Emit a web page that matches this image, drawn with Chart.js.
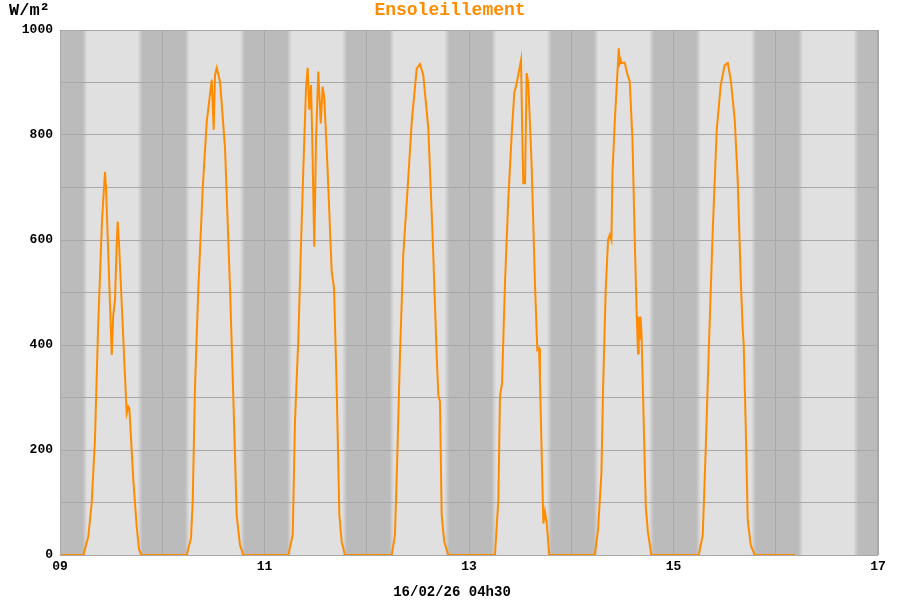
<!DOCTYPE html>
<html>
<head>
<meta charset="utf-8">
<title>Ensoleillement</title>
<script src="https://cdn.jsdelivr.net/npm/chart.js@4.4.1/dist/chart.umd.min.js"></script>
<style>
  body { margin: 0; background: #fff; }
  #wrap { width: 900px; height: 600px; }
</style>
</head>
<body>
<div id="wrap"><canvas id="sunChart" width="900" height="600"></canvas></div>
<script>
// time in days of the month (9.5 = 9th at 12h00), irradiance in W/m2
const times = [
  9.000, 9.228, 9.277, 9.310, 9.342, 9.372, 9.411, 9.440, 9.450, 9.506, 9.521, 9.538, 9.555, 9.564, 9.577,
  9.652, 9.668, 9.678, 9.717, 9.750, 9.773, 9.799,
  10.239, 10.281, 10.298, 10.320, 10.353, 10.396, 10.435, 10.484, 10.503, 10.516, 10.533, 10.565, 10.614,
  10.663, 10.702, 10.728, 10.760, 10.793,
  11.233, 11.276, 11.298, 11.331, 11.354, 11.379, 11.406, 11.422, 11.438, 11.455, 11.467, 11.487, 11.504,
  11.526, 11.550, 11.569, 11.585, 11.618, 11.657, 11.680, 11.706, 11.732, 11.755, 11.787,
  12.244, 12.276, 12.299, 12.325, 12.357, 12.400, 12.440, 12.489, 12.521, 12.553, 12.602, 12.645, 12.684,
  12.700, 12.716, 12.733, 12.758, 12.798,
  13.254, 13.287, 13.303, 13.323, 13.352, 13.384, 13.418, 13.443, 13.467, 13.509, 13.521, 13.531, 13.548,
  13.564, 13.580, 13.613, 13.645, 13.668, 13.685, 13.694, 13.727, 13.743, 13.760, 13.785,
  14.230, 14.262, 14.295, 14.311, 14.337, 14.360, 14.377, 14.393, 14.403, 14.425, 14.448, 14.465, 14.474,
  14.484, 14.491, 14.523, 14.546, 14.572, 14.599, 14.621, 14.638, 14.653, 14.660, 14.670, 14.677, 14.687,
  14.709, 14.729, 14.751, 14.784,
  15.247, 15.286, 15.315, 15.345, 15.384, 15.423, 15.462, 15.501, 15.531, 15.560, 15.599, 15.628, 15.658,
  15.677, 15.687, 15.707, 15.726, 15.755, 15.795,
  16.1875
];
const irradiance = [
  0, 0, 35, 99, 220, 429, 638, 730, 700, 381, 457, 486, 594, 635, 594,
  270, 283, 280, 143, 54, 10, 0,
  0, 32, 102, 318, 508, 699, 825, 905, 810, 914, 928, 902, 775,
  508, 254, 76, 19, 0,
  0, 38, 254, 413, 571, 730, 889, 928, 848, 895, 794, 587, 794,
  921, 822, 892, 870, 730, 540, 508, 318, 76, 25, 0,
  0, 38, 190, 381, 571, 699, 825, 927, 935, 914, 813, 603, 381,
  305, 292, 76, 25, 0,
  0, 105, 302, 327, 518, 676, 803, 880, 899, 943, 803, 708, 708,
  918, 899, 740, 518, 391, 394, 333, 60, 83, 60, 0,
  0, 48, 156, 314, 505, 600, 610, 600, 727, 822, 905, 965, 937,
  943, 937, 938, 918, 902, 790, 600, 473, 384, 454, 410, 454, 422,
  251, 92, 41, 0,
  0, 38, 200, 390, 619, 810, 895, 933, 937, 905, 829, 714, 524,
  429, 400, 238, 67, 19, 0,
  0
];
const firstDay = 9;
const lastDay = 17;
const maxValue = 1000;
const titleText = "Ensoleillement";
const unitText = "W/m\u00b2";
const stampText = "16/02/26 04h30";

// night shading: fade in from dusk to dark, fade out from dawn to day (hours)
const duskStart = 18.2, duskEnd = 19.4, dawnStart = 5.3, dawnEnd = 6.4;

const monoFont = "'Liberation Mono', 'DejaVu Sans Mono', monospace";

const plotBackground = {
  id: "plotBackground",
  beforeDraw(chart) {
    const { ctx, chartArea: a, scales: { x } } = chart;
    ctx.save();
    ctx.fillStyle = "#e0e0e0";
    ctx.fillRect(a.left, a.top, a.right - a.left, a.bottom - a.top);
    ctx.beginPath();
    ctx.rect(a.left, a.top, a.right - a.left, a.bottom - a.top);
    ctx.clip();
    for (let d = firstDay - 1; d < lastDay; d++) {
      const x0 = x.getPixelForValue(d + duskStart / 24);
      const x1 = x.getPixelForValue(d + duskEnd / 24);
      const x2 = x.getPixelForValue(d + 1 + dawnStart / 24);
      const x3 = x.getPixelForValue(d + 1 + dawnEnd / 24);
      const g = ctx.createLinearGradient(x0, 0, x3, 0);
      g.addColorStop(0, "#e0e0e0");
      g.addColorStop((x1 - x0) / (x3 - x0), "#bbbbbb");
      g.addColorStop((x2 - x0) / (x3 - x0), "#bbbbbb");
      g.addColorStop(1, "#e0e0e0");
      ctx.fillStyle = g;
      ctx.fillRect(x0, a.top, x3 - x0, a.bottom - a.top);
    }
    ctx.restore();
  },
  afterDraw(chart) {
    const { ctx, chartArea: a } = chart;
    ctx.save();
    ctx.strokeStyle = "#a8a8a8";
    ctx.lineWidth = 1;
    ctx.strokeRect(a.left + 0.5, a.top + 0.5, a.right - a.left - 1, a.bottom - a.top);
    ctx.textBaseline = "middle";
    ctx.font = "bold 18px " + monoFont;
    ctx.fillStyle = "#ff8c00";
    ctx.textAlign = "center";
    ctx.fillText(titleText, 450, 10);
    ctx.fillStyle = "#000";
    ctx.textAlign = "left";
    ctx.font = "bold 17px " + monoFont;
    ctx.fillText(unitText, 9, 11);
    ctx.font = "bold 14px " + monoFont;
    ctx.textAlign = "center";
    ctx.fillText(stampText, 452, 592);
    ctx.restore();
  }
};

new Chart(document.getElementById("sunChart"), {
  type: "line",
  data: {
    datasets: [
      {
        data: times.map((t, i) => ({ x: t, y: irradiance[i] })),
        borderColor: "#ff8c00",
        borderWidth: 2,
        pointRadius: 0,
        tension: 0,
        fill: false,
        clip: 2,
      },
    ],
  },
  options: {
    responsive: false,
    animation: false,
    layout: { padding: { top: 30, right: 22, left: 0, bottom: 0 } },
    plugins: {
      legend: { display: false },
      tooltip: { enabled: false },
      title: { display: false },
    },
    scales: {
      x: {
        type: "linear",
        min: firstDay,
        max: lastDay,
        afterFit: (s) => { s.height = 45; },
        border: { display: false },
        grid: { color: "#a8a8a8", lineWidth: 1, drawTicks: false },
        ticks: {
          stepSize: 1,
          padding: 4,
          maxRotation: 0,
          autoSkip: false,
          color: "#000",
          font: { family: monoFont, size: 13, weight: "bold" },
          callback: (v) => (v % 2 === 1 ? String(v).padStart(2, "0") : ""),
        },
      },
      y: {
        min: 0,
        max: maxValue,
        afterFit: (s) => { s.width = 60; },
        border: { display: false },
        grid: { color: "#a8a8a8", lineWidth: 1, drawTicks: false },
        ticks: {
          stepSize: 100,
          padding: 7,
          color: "#000",
          font: { family: monoFont, size: 13, weight: "bold" },
          callback: (v) => (v % 200 === 0 ? String(v) : ""),
        },
      },
    },
  },
  plugins: [plotBackground],
});
</script>
</body>
</html>
